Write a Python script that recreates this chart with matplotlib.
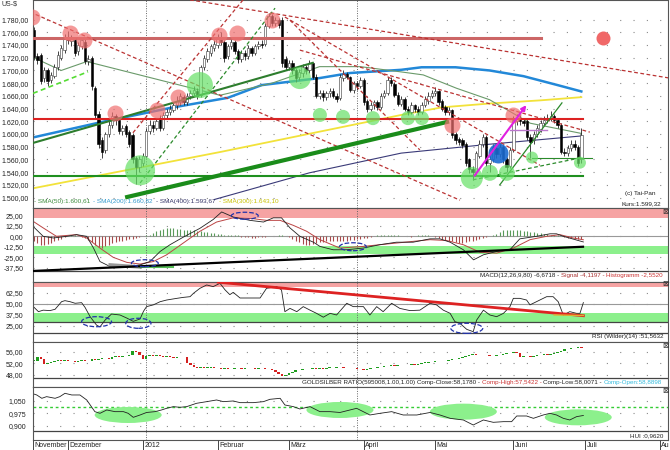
import numpy as np
import matplotlib
matplotlib.use('Agg')
import matplotlib.pyplot as plt
from matplotlib.patches import Ellipse

plt.rcParams['font.family'] = ['Liberation Sans', 'DejaVu Sans']

# ---------------- gold daily candles, 17.11.2011 - 29.06.2012 (US-$) ----------------
opens = [
    1763, 1722, 1725, 1688, 1700, 1685, 1692, 1705, 1720, 1732,  # Nov
    1752, 1746, 1748, 1730, 1738, 1745, 1715, 1720, 1672, 1632, 1590, 1575, 1600, 1615, 1628, 1622, 1605, 1612, 1603, 1598, 1562, 1548,  # Dez
    1555, 1566, 1605, 1615, 1610, 1625, 1610, 1630, 1634, 1638, 1645, 1650, 1658, 1650, 1660, 1665, 1668, 1662, 1705, 1718, 1728, 1735,  # Jan
    1740, 1752, 1745, 1722, 1738, 1745, 1730, 1718, 1728, 1722, 1735, 1728, 1738, 1742, 1742, 1770, 1785, 1775, 1780, 1780, 1718,  # Feb
    1706, 1712, 1700, 1690, 1696, 1705, 1700, 1712, 1690, 1660, 1665, 1658, 1664, 1668, 1660, 1657, 1688, 1695, 1690, 1670, 1680, 1675,  # Mar
    1685, 1652, 1640, 1645, 1650, 1642, 1660, 1665, 1685, 1678, 1662, 1648, 1655, 1640, 1635, 1645, 1640, 1635, 1645, 1652, 1660,  # Apr
    1665, 1668, 1652, 1642, 1635, 1638, 1600, 1592, 1590, 1585, 1560, 1545, 1540, 1565, 1585, 1595, 1555, 1560, 1578, 1568, 1580, 1560, 1550,  # Mai
    1575, 1620, 1625, 1620, 1620, 1595, 1590, 1600, 1608, 1618, 1622, 1625, 1628, 1622, 1615, 1572, 1570, 1578, 1585, 1580, 1560,  # Jun
]
closes = [
    1721, 1716, 1683, 1700, 1683, 1693, 1705, 1725, 1735, 1752,
    1748, 1750, 1728, 1740, 1748, 1715, 1718, 1675, 1630, 1585, 1572, 1600, 1615, 1628, 1622, 1605, 1610, 1600, 1585, 1560, 1548, 1560,
    1566, 1605, 1615, 1610, 1620, 1610, 1630, 1635, 1640, 1645, 1652, 1660, 1650, 1660, 1665, 1670, 1660, 1705, 1720, 1730, 1738, 1742,
    1752, 1745, 1720, 1738, 1745, 1730, 1718, 1728, 1722, 1735, 1728, 1738, 1742, 1740, 1770, 1785, 1775, 1780, 1772, 1712, 1705,
    1712, 1700, 1688, 1698, 1705, 1700, 1712, 1690, 1660, 1665, 1658, 1664, 1668, 1660, 1655, 1690, 1695, 1690, 1670, 1680, 1675, 1685,
    1650, 1640, 1645, 1650, 1642, 1660, 1665, 1685, 1680, 1662, 1648, 1655, 1640, 1635, 1645, 1640, 1635, 1645, 1655, 1660, 1665,
    1668, 1650, 1640, 1635, 1638, 1598, 1590, 1588, 1582, 1555, 1545, 1540, 1570, 1585, 1595, 1555, 1560, 1580, 1568, 1580, 1560, 1548, 1575,
    1622, 1625, 1620, 1618, 1595, 1588, 1600, 1610, 1618, 1622, 1625, 1628, 1622, 1615, 1572, 1570, 1578, 1585, 1580, 1555, 1599,
]
highs = [
    1768, 1728, 1728, 1706, 1704, 1698, 1710, 1730, 1740, 1757,
    1762, 1755, 1752, 1744, 1752, 1749, 1724, 1722, 1676, 1636, 1596, 1604, 1620, 1634, 1632, 1626, 1615, 1616, 1607, 1602, 1566, 1565,
    1570, 1610, 1622, 1620, 1625, 1630, 1634, 1640, 1645, 1650, 1660, 1664, 1662, 1665, 1670, 1675, 1672, 1708, 1725, 1735, 1742, 1748,
    1758, 1760, 1748, 1742, 1752, 1748, 1734, 1732, 1732, 1740, 1738, 1742, 1746, 1748, 1774, 1790, 1788, 1784, 1783, 1784, 1722,
    1716, 1716, 1704, 1703, 1710, 1709, 1716, 1714, 1694, 1670, 1670, 1668, 1672, 1672, 1664, 1694, 1700, 1698, 1692, 1684, 1684, 1690,
    1688, 1655, 1650, 1654, 1654, 1664, 1670, 1690, 1690, 1682, 1666, 1660, 1658, 1644, 1650, 1648, 1644, 1650, 1660, 1666, 1670,
    1674, 1670, 1655, 1645, 1642, 1640, 1604, 1596, 1594, 1588, 1563, 1550, 1574, 1590, 1600, 1598, 1566, 1585, 1582, 1585, 1583, 1564, 1580,
    1628, 1632, 1630, 1626, 1623, 1600, 1605, 1615, 1622, 1628, 1632, 1636, 1632, 1626, 1618, 1578, 1582, 1590, 1590, 1583, 1610,
]
lows = [
    1716, 1710, 1678, 1682, 1676, 1680, 1688, 1700, 1716, 1728,
    1742, 1738, 1722, 1725, 1733, 1710, 1708, 1670, 1625, 1578, 1563, 1570, 1596, 1610, 1615, 1600, 1598, 1596, 1580, 1555, 1522, 1540,
    1550, 1562, 1600, 1604, 1606, 1605, 1606, 1625, 1630, 1634, 1640, 1646, 1645, 1646, 1655, 1660, 1655, 1658, 1700, 1714, 1722, 1730,
    1735, 1740, 1714, 1718, 1733, 1726, 1712, 1714, 1716, 1718, 1722, 1724, 1734, 1735, 1738, 1766, 1770, 1770, 1766, 1706, 1700,
    1700, 1694, 1682, 1685, 1690, 1695, 1696, 1686, 1656, 1655, 1652, 1653, 1658, 1656, 1650, 1654, 1684, 1686, 1666, 1665, 1670, 1672,
    1646, 1634, 1636, 1640, 1638, 1640, 1656, 1662, 1675, 1658, 1644, 1644, 1636, 1630, 1632, 1635, 1630, 1632, 1642, 1648, 1656,
    1660, 1646, 1636, 1630, 1630, 1594, 1585, 1582, 1578, 1550, 1538, 1527, 1536, 1562, 1580, 1550, 1540, 1556, 1562, 1564, 1555, 1540, 1546,
    1572, 1615, 1615, 1612, 1590, 1562, 1585, 1596, 1604, 1614, 1618, 1620, 1618, 1610, 1568, 1565, 1566, 1574, 1575, 1550, 1555,
]

# moving averages (read at sample days)
sma50_day = [0, 8, 15.5, 54.7, 70, 84, 96, 107.6, 114.5, 124.3, 134, 146, 161]
sma50_val = [1720, 1700, 1714, 1661, 1680, 1706, 1706, 1698, 1693, 1672, 1654, 1617, 1601]
sma200_day = [0, 20, 40, 57, 67, 84, 93, 108, 114, 124, 134, 144, 154, 161]
sma200_val = [1595, 1619, 1641, 1657, 1677, 1688, 1696, 1701, 1705, 1705, 1700, 1691, 1677, 1667]
sma300_day = [0, 55, 108, 120, 134, 149, 161]
sma300_val = [1515, 1572, 1630, 1642, 1648, 1653, 1658]
sma400_day = [53, 81, 108, 134, 161]
sma400_val = [1497, 1539, 1570, 1584, 1597]

# MACD
macd_day = [-0.7, 2.7, 5.7, 9.6, 12.5, 15.5, 17.5, 19.4, 22.4, 27.3, 31.2, 34.1, 37.1, 40, 43.9, 48.8, 52.7, 55.2,
            58.6, 63.5, 67.5, 70.4, 72.8, 75.3, 78.2, 82.2, 84.1, 88, 91.9, 96.8, 101.7, 106.6, 111.5, 116.5, 119.4,
            122.4, 126.3, 129.3, 132.2, 136.1, 140, 142.9, 147.8, 151.8, 153.7, 155.7, 161.6]
macd_val = [13.5, 0, -2, 0, 2, 0, -14, -30, -36, -36, -34, -30, -18, -10, -1, 9.5, 20, 29,
            23, 19, 17, 22, 22, 10, 0, -7, -12, -16, -16, -14, -10, -7, -7, -3, -3,
            -7, -16, -28, -22, -18, -16, -3, 0, 3, 3, 0, -6.7]
signal_day = [-0.7, 2.7, 6.6, 12.5, 15.5, 19.4, 23.3, 27.3, 31.2, 35.1, 39, 43.9, 48.8, 53.7, 58.6, 64.5, 68.4,
              72.4, 76.3, 80.2, 84.1, 90, 96.8, 106.6, 116.5, 121.4, 126.3, 131.2, 136.1, 141, 145.9, 150.8,
              154.7, 158.6, 161.6]
signal_val = [19, 10, 0, 2, -2, -14, -25, -31, -33, -30, -22, -8, 6, 17, 22, 21, 19,
              19, 13, 6, -4, -14, -12, -8, -4, -5, -10, -19, -20, -14, -4, 0,
              2, -2, -4.1]
histogram = [
    -6, -8, -10, -10, -9, -8, -6, -4, -3, -1, 0, 1, 1, 0,
    -1, -2, -4, -7, -10, -13, -14, -12, -10, -8, -7, -6, -5, -4, -3, -3, -2, -1, 0, 1,
    2, 4, 6, 8, 9, 10, 10, 10, 9, 9, 8, 8, 7, 7, 6, 6, 5, 5, 4, 4, 3, 3, 2, 2, 1, 1, 1,
    -1, -1, -1, -2, -2, -1, -1, -1, 0, 0, 0, 1, 1, 0, -1,
    -3, -5, -7, -9, -10, -10, -9, -8, -7, -7, -6, -6, -5, -5, -5,
    -5, -5, -4, -4, -3, -3, -2, -2, -1, 0, 1, 1, 2, 2, 2, 1, 1, 0,
    0, 0, -1, 0, 1, 2, 2, 1, 0,
    -1, -2, -3, -4, -5, -6, -7, -8, -8, -7, -6, -5, -4, -3, -2, -1, 0,
    1, 3, 5, 7, 8, 8, 8, 7, 7, 6, 6, 5, 5, 4, 4, 3, 3, 2, 2, 1, 0,
    -1, -2, -2, -3, -3, -2.6,
]

# RSI (Wilder, 14)
rsi_day = [-0.2, 1.3, 2.7, 4.7, 6.2, 8.1, 9.1, 10.6, 12.1, 14, 15, 16.5, 18.4, 19.4, 20.9, 22.8, 25.3, 27.3, 29.2,
           31.2, 32.2, 33.1, 35.1, 37.1, 39, 42, 43.9, 45.9, 46.9, 48.8, 50.8, 52.7, 54.7, 56.2, 57.6, 58.6, 60.6,
           62.5, 64.5, 66.5, 68.4, 71.4, 72.8, 73.8, 75.3, 77.3, 79.2, 81.2, 83.1, 85.1, 87.1, 89, 92, 93.9, 96.9,
           98.8, 100.8, 102.7, 105.2, 107.6, 110.6, 113.5, 116.5, 118.4, 120.4, 122.4, 123.8, 125.3, 127.3, 129.2,
           130.2, 132.2, 134.1, 136.1, 138.1, 140, 141, 142.9, 144.9, 145.9, 147.8, 150.8, 152.7, 154.2, 155.7,
           157.6, 159.6, 160.6, 161.6]
rsi_val = [47, 41.3, 43, 42.5, 44, 52.6, 53.8, 52.6, 50.8, 51.5, 46.2, 35.6, 26, 24, 31.7, 38.6, 37.5, 34, 30.3,
           33, 41.7, 47, 49, 52.6, 54.5, 56.4, 57.5, 58.3, 62.1, 67.8, 71.6, 69.7, 73.5, 66, 60.6, 63.2, 56.8,
           56.8, 56.8, 56.8, 67.8, 69.7, 66, 41.3, 45, 41.3, 47, 43, 39.4, 35, 39.4, 37.5, 50.8, 47, 47,
           37.5, 47, 41.3, 50.8, 45, 42.5, 43, 50.8, 49, 43, 39.4, 30, 28, 21.2, 18.6,
           31.7, 43, 37.5, 35.6, 39.4, 47, 56.4, 56.4, 54.5, 49, 52.6, 58.3, 58.3, 52.6, 37.5,
           41.3, 39.4, 39.4, 51.6]

# Gold/Silber-Ratio, daily close
gs_close = [
    53.0, 54.2, 53.6, 51.8, 52.1, 52.6, 53.0, 53.2, 52.9, 53.1,
    52.8, 53.0, 52.6, 52.9, 53.1, 52.7, 53.0, 53.4, 53.2, 53.6, 53.8, 54.0, 53.6, 54.1, 54.5, 54.2, 54.7, 54.5, 55.0, 56.4, 55.9, 55.1,
    53.7, 54.6, 55.0, 54.7, 55.0, 54.6, 54.4, 54.5, 54.3, 54.0, 54.3, 54.2, 54.4, 52.0, 51.6, 50.9, 50.6, 50.8, 50.5, 50.6, 50.7, 50.4,
    50.3, 50.1, 50.4, 50.2, 50.0, 50.3, 50.5, 50.2, 50.3, 50.6, 50.4, 50.2, 50.5, 50.3, 50.2, 50.0, 49.8, 48.9, 48.2, 47.7, 48.0,
    48.7, 49.2, 49.6, 49.8, 50.0, 50.2, 50.1, 50.3, 50.2, 50.4, 50.2, 50.5, 50.6, 50.4, 50.7, 50.9, 50.6, 50.5, 50.3, 50.4, 50.2, 50.0,
    49.8, 50.0, 50.3, 50.6, 50.8, 50.9, 51.1, 51.3, 51.4, 51.3, 51.5, 51.6, 51.4, 51.5, 51.7, 51.5, 51.8, 52.2, 52.3,
    52.5, 52.4, 52.7, 52.8, 53.0, 52.9, 53.1, 53.4, 53.6, 53.8, 54.2, 54.6, 55.0, 55.2, 55.0, 54.9, 54.8, 54.9, 54.7, 54.6, 54.8, 55.0, 55.3,
    55.5, 55.8, 55.9, 55.6, 54.3, 54.5, 54.6, 54.4, 54.7, 54.9, 55.1, 55.2, 55.0, 55.3, 55.6, 55.9, 56.4, 57.1, 56.9, 57.3, 57.5, 57.7, 57.4,
]

# HUI ratio
hui_day = [-0.7, 0.8, 2.3, 3.7, 6.2, 7.6, 9.1, 11.1, 13.5, 15.5, 17.9, 19.4, 21.4, 23.8, 26.3, 27.7, 29.2, 31.2,
           33.1, 35.6, 37.5, 39, 41, 42.9, 44.9, 47.8, 50.8, 53.7, 55.7, 58.6, 60.6, 64.5, 67.5, 69.4, 72.4, 73.8,
           76.3, 78.2, 81.2, 84.1, 87.1, 90, 94.9, 98.8, 101.8, 105.2, 108.6, 112.6, 116.5, 119.4, 122.4, 126.3,
           129.2, 132.2, 135.1, 138.1, 140.5, 142, 144.9, 146.9, 149.8, 151.8, 153.7, 155.7, 157.6, 159.6, 161.6]
hui_val = [1.095, 1.085, 1.065, 1.075, 1.065, 1.075, 1.095, 1.085, 1.085, 1.055, 0.985, 0.975, 0.995, 0.985, 0.985, 0.975,
           0.951, 0.965, 0.98, 0.985, 0.995, 1.005, 1.015, 1.011, 1.015, 1.035, 1.045, 1.055, 1.045, 1.049, 1.039,
           1.039, 1.045, 1.059, 1.065, 1.025, 1.015, 1.001, 1.015, 0.985, 0.985, 0.98, 1.005, 0.965, 0.975, 0.985,
           0.965, 0.965, 0.98, 0.965, 0.945, 0.935, 0.905, 0.935, 0.921, 0.925, 0.925, 0.959, 0.959, 0.945, 0.965,
           0.975, 0.965, 0.945, 0.935, 0.955, 0.962]

months = ['November', 'Dezember', '2012', 'Februar', 'März', 'April', 'Mai', 'Juni', 'Juli', 'Au']
month_start = [-0.3, 10, 32, 54, 75, 97, 118, 141, 162, 184]

# drawn annotations (day, price)
red_dashed = [(29.1, 1602, 61.5, 1811), (45.9, 1811, 187, 1688), (-1.2, 1792, 125.3, 1496),
              (73.8, 1784, 148.8, 1551), (78.2, 1732, 163.5, 1603), (75.3, 1779, 113.5, 1575)]
red_circ_day = [-0.6, 10.6, 14.7, 23.8, 36.2, 42.4, 54.4, 59.7, 70, 123, 140.9]
red_circ_val = [1784, 1759, 1748, 1633, 1638, 1658, 1756, 1759, 1779, 1614, 1630]
green_circ_day = [31.2, 48.8, 78.2, 84.1, 90.9, 99.7, 110, 114.1, 128.8, 134.1, 139.1, 146.5, 160.6]
green_circ_val = [1543, 1677, 1688, 1630, 1627, 1625, 1625, 1625, 1531, 1539, 1539, 1563, 1555]
green_circ_r = [15, 13, 11, 7, 7, 7, 7, 7, 11, 8, 8, 6, 6]

W, H = 670, 450
L, R = 33, 668
X0, X1 = -0.3, 186.5
sep_days = [32.85, 95]

fig = plt.figure(figsize=(6.7, 4.5), dpi=100)
fig.patch.set_facecolor('white')
rend = fig.canvas.get_renderer()


def de(v, nd):
    s = f"{v:,.{nd}f}"
    return s.replace(',', 'X').replace('.', ',').replace('X', '.')


def panel(top, bottom, ylim, ticks, nd, pad):
    ax = fig.add_axes([L / W, 1 - bottom / H, (R - L) / W, (bottom - top) / H])
    ax.set_xlim(X0, X1)
    ax.set_ylim(*ylim)
    ax.set_xticks([])
    ax.set_yticks(ticks, [de(t, nd) for t in ticks])
    ax.tick_params(axis='y', length=0, pad=pad, labelsize=5, labelcolor='#222222')
    for sp in ax.spines.values():
        sp.set_color('#555555')
        sp.set_linewidth(0.8)
    for t in ticks:
        ax.axhline(t, color='#8a8a8a', lw=0.8, ls=(0, (1, 11)), zorder=0)
    for d in sep_days:
        ax.axvline(d, color='#666666', lw=0.7, ls=(0, (1, 1.5)), zorder=0.5)
    return ax


def ptext(x, y, s, **kw):
    return fig.text(x / W, 1 - y / H, s, **kw)


def ctext(x, y, parts, align='left', size=4.5):
    if align == 'right':
        parts = parts[::-1]
    for s, col in parts:
        t = ptext(x, y, s, color=col, fontsize=size, ha=align, va='center')
        w = t.get_window_extent(rend).width
        x = x + w if align == 'left' else x - w


def r2s(r):
    return (2 * r * 0.72) ** 2


# ---------------- price panel ----------------
ax = panel(0, 208, (1483.7, 1810.8), list(range(1500, 1781, 20)), 2, 3)
ax.plot(sma300_day, sma300_val, color='#f2e23a', lw=1.3, zorder=1)
ax.plot(sma400_day, sma400_val, color='#3a3a78', lw=0.8, zorder=1)
ax.plot(sma200_day, sma200_val, color='#2288d8', lw=1.8, zorder=1)
ax.plot(sma50_day, sma50_val, color='#6a9a6a', lw=0.8, zorder=1)

o, c = np.array(opens, float), np.array(closes, float)
x = np.arange(len(o))
up = c >= o
ax.vlines(x, lows, highs, color='#222222', lw=0.6, zorder=2)
ax.bar(x[up], np.maximum(c - o, 1)[up], bottom=o[up], width=0.7, color='white',
       edgecolor='#333333', lw=0.4, zorder=2.1)
ax.bar(x[~up], (o - c)[~up], bottom=c[~up], width=0.7, color='black',
       edgecolor='black', lw=0.4, zorder=2.1)

ax.plot([X0, 149], [1751.5, 1751.5], color='#cc6666', lw=2.2, zorder=3)
ax.plot([X0, 161.5], [1623, 1623], color='#dd2222', lw=1.5, zorder=3)
ax.plot([X0, 161.5], [1534, 1534], color='#1f8f1f', lw=1.5, zorder=3)
for d1, p1, d2, p2 in red_dashed:
    ax.plot([d1, d2], [p1, p2], color='#bb3333', lw=0.9, ls=(0, (3, 2)), zorder=3)
ax.plot([31.2, 70.9], [1523, 1798], color='#2a8a2a', lw=0.9, ls=(0, (3, 2)), zorder=3)
ax.plot([-0.3, 15.9], [1664, 1698], color='#55dd33', lw=1.2, ls=(0, (3, 2)), zorder=3)
ax.plot([-0.3, 82], [1586, 1712], color='#2d7d2d', lw=1.5, zorder=3)
ax.plot([27.4, 121.5], [1501, 1619], color='#1a8c1a', lw=3, zorder=3)
ax.plot([137, 155.3], [1520, 1649], color='#2a8a2a', lw=0.9, zorder=3)
ax.plot([129.1, 161.2], [1528, 1563], color='#2a8a2a', lw=0.9, ls=(0, (3, 2)), zorder=3)
ax.plot([146.5, 164], [1563, 1563], color='#2a8a2a', lw=0.8, zorder=3)
ax.plot([140, 151], [1606, 1606], color='#bb77cc', lw=1, zorder=3)

ax.scatter(red_circ_day, red_circ_val, s=r2s(8), color='#f07070', alpha=0.7, lw=0, zorder=4)
ax.scatter(green_circ_day, green_circ_val, s=[r2s(r) for r in green_circ_r], color='#66e066',
           alpha=0.7, lw=0, zorder=4)
ax.scatter([136.5], [1570], s=r2s(10), color='#1a6ad0', alpha=0.9, lw=0, zorder=4)
ax.scatter([167.4], [1751], s=r2s(7), color='#f06868', lw=0, zorder=4)
ax.annotate('', xy=(145.3, 1649), xytext=(129.1, 1531), zorder=5,
            arrowprops=dict(arrowstyle='-|>', color='#e020e0', lw=1.5, mutation_scale=7))

ptext(2, 4, 'US-$', fontsize=5, color='#333333', va='center')
ctext(33.5, 201.5, [('- SMA(50):1.600,61  ', '#3c8c3c'), ('- SMA(200):1.660,82  ', '#3399cc'),
                    ('- SMA(400):1.593,67  ', '#333366'), ('- SMA(300):1.643,10', '#c8c000')], size=4.6)
ptext(625, 193.3, '(c) Tai-Pan', fontsize=4.6, color='#222222', va='center')
ptext(622, 204, 'Kurs:1.599,32', fontsize=4.6, color='#222222', va='center')

# ---------------- MACD panel ----------------
axm = panel(208, 281.7, (-54, 33.7), [25, 12.5, 0, -12.5, -25, -37.5], 2, 7)
axm.axhspan(22, 40, color='#f6a3a3', lw=0, zorder=0)
axm.axhspan(-21.4, -11.2, color='#8cf08c', lw=0, zorder=0)
axm.axhline(0, color='#999999', lw=0.8, zorder=0.6)
axm.axhline(-41.3, color='#444444', lw=0.9, zorder=0.6)
hist = np.array(histogram, float)
axm.vlines(np.arange(len(hist)), 0, hist, colors=np.where(hist > 0, '#5a9a5a', '#a84a4a'), lw=0.8, zorder=1)
axm.plot(signal_day, signal_val, color='#bb4444', lw=0.7, zorder=2)
axm.plot(macd_day, macd_val, color='#222222', lw=0.6, zorder=2)
axm.plot([-0.7, 161.5], [-41.3, -12.4], color='black', lw=1.6, zorder=3)
axm.plot([22.4, 31.2], [-34, -36.5], color='#999999', lw=2.5, zorder=2)
axm.plot([31.2, 40.9], [-36.5, -36.5], color='#55bb55', lw=1.5, zorder=2)
for cx, cy, w, h in [(32.6, -32, 7.9, 8.3), (62, 24.5, 7.9, 8.3), (93.8, -12.4, 7.9, 9.5)]:
    axm.add_patch(Ellipse((cx, cy), w, h, fill=False, ec='#2233aa', ls='--', lw=0.9, zorder=4))
ctext(663, 275.7, [('MACD(12,26,9,80) -6,6718 - ', '#222222'), ('Signal -4,1197 - ', '#aa3333'),
                   ('Histogramm -2,5520', '#cc3333')], align='right')

# ---------------- RSI panel ----------------
axr = panel(281.7, 341.7, (7.2, 75.3), [62.5, 50, 37.5, 25], 2, 7)
axr.axhspan(69, 80, color='#f6a3a3', lw=0, zorder=0)
axr.axhspan(29.2, 39.4, color='#8cf08c', lw=0, zorder=0)
axr.axhline(50, color='#999999', lw=0.8, zorder=0.6)
axr.axhline(29.2, color='#444444', lw=0.9, zorder=0.6)
axr.axhline(16.7, color='#444444', lw=0.9, zorder=0.6)
axr.plot(rsi_day, rsi_val, color='#222222', lw=0.6, zorder=2)
axr.plot([54.2, 161.6], [74.7, 36.7], color='#dd2222', lw=2, zorder=3)
axr.plot([153, 161.6], [37.6, 36.9], color='#e0b030', lw=1, zorder=3)
for cx, cy, w, h in [(18.4, 29.9, 8.8, 11.4), (30.7, 28.1, 7.4, 11.4), (127.3, 22.4, 9.4, 11.4)]:
    axr.add_patch(Ellipse((cx, cy), w, h, fill=False, ec='#2233aa', ls='--', lw=0.9, zorder=4))
ptext(663, 336.7, 'RSI (Wilder)(14) :51,5632', fontsize=4.5, color='#222222', ha='right', va='center')

# ---------------- Gold/Silber ratio panel ----------------
axg = panel(341.7, 387.3, (43.7, 59.6), [56, 52, 48], 2, 7)
axg.axhline(46.85, color='#444444', lw=0.9, zorder=0.6)
gc = np.array(gs_close)
go = np.concatenate([[gc[0]], gc[:-1]])
gx = np.arange(len(gc))
gup = gc >= go
axg.bar(gx[gup], np.maximum(gc - go, 0.15)[gup], bottom=go[gup], width=0.75, color='#1e9e1e', lw=0, zorder=2)
axg.bar(gx[~gup], (go - gc)[~gup], bottom=gc[~gup], width=0.75, color='#d42020', lw=0, zorder=2)
ctext(662, 382.7, [('GOLDSILBER RATIO(595008,1.00,1.00) Comp-Close:58,1780 - ', '#222222'),
                   ('Comp-High:57,5422 - ', '#cc3333'), ('Comp-Low:58,0071 - ', '#222222'),
                   ('Comp-Open:58,8898', '#33bbdd')], align='right')

# ---------------- HUI panel ----------------
axh = panel(387.3, 440, (0.815, 1.131), [1.05, 0.975, 0.9], 3, 5)
axh.axhline(0.867, color='#444444', lw=0.9, zorder=0.6)
axh.axhline(1.011, color='#33cc33', lw=1, ls=(0, (2, 2)), zorder=0.7)
for cx, cy in [(27.7, 0.965), (90, 0.995), (126.3, 0.985), (160.1, 0.951)]:
    axh.add_patch(Ellipse((cx, cy), 19.7, 0.096, color='#8cf08c', lw=0, zorder=1))
axh.plot(hui_day, hui_val, color='#222222', lw=0.6, zorder=2)
ptext(663, 436, 'HUI :0,9620', fontsize=4.5, color='#222222', ha='right', va='center')

for yy in [211, 283.3, 345, 390.7]:
    ptext(665, yy, '⊠', fontsize=5.5, family=['DejaVu Sans'], color='#333333', ha='center', va='center')

# ---------------- date strip ----------------
axd = fig.add_axes([L / W, 0, (R - L) / W, 10 / H])
axd.set_xlim(X0, X1)
axd.set_ylim(0, 1)
axd.axis('off')
axd.vlines(month_start, 0, 1, color='#444444', lw=0.7)
for d, name in zip(month_start, months):
    axd.text(d + 0.5, 0.45, name, fontsize=5, color='#222222', va='center', ha='left')

fig.savefig('out.png', dpi=100)
